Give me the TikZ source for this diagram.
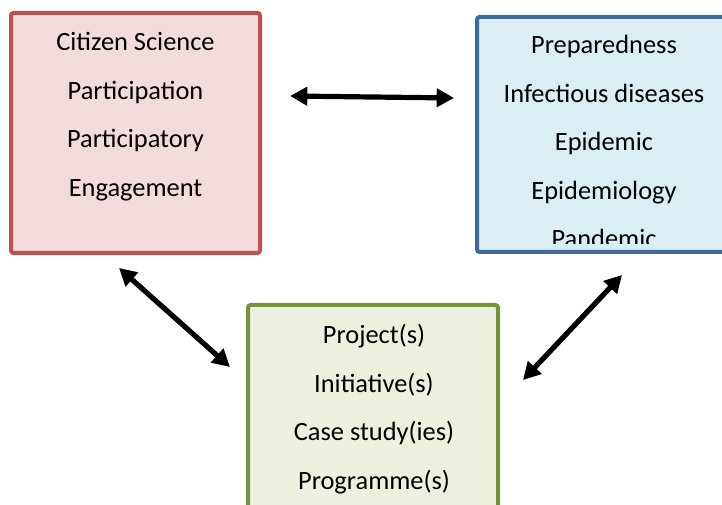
\documentclass[tikz,border=0pt]{standalone}
\usepackage{fontspec}
\setmainfont{Carlito}
\usetikzlibrary{arrows.meta}
\definecolor{redline}{HTML}{C0504D}
\definecolor{redfill}{HTML}{F2DCDB}
\definecolor{blueline}{HTML}{3F6A9B}
\definecolor{bluefill}{HTML}{DAEEF3}
\definecolor{greenline}{HTML}{77933C}
\definecolor{greenfill}{HTML}{EBF1DE}
\tikzset{
  boxbase/.style={draw, line width=3pt, rounded corners=2pt, inner sep=0pt},
  redbox/.style={boxbase, draw=redline, fill=redfill},
  bluebox/.style={boxbase, draw=blueline, fill=bluefill},
  greenbox/.style={boxbase, draw=greenline, fill=greenfill},
  term/.style={anchor=base, inner sep=0pt, font=\fontsize{19.8}{24}\selectfont},
  dblarrow/.style={{Triangle[length=13pt,width=13.5pt]}-{Triangle[length=13pt,width=13.5pt]}, line width=3.9pt}
}
\begin{document}
\begin{tikzpicture}[x=0.75pt,y=-0.75pt]
\useasboundingbox (0,0) rectangle (722,505);
\clip (0,0) rectangle (722,505);
\fill[white] (0,0) rectangle (722,505);
% boxes
\node[redbox, minimum width=249*0.75pt, minimum height=240*0.75pt] (red) at (135.5,133) {};
\node[bluebox, minimum width=254*0.75pt, minimum height=235*0.75pt] (blue) at (604,134.5) {};
\node[greenbox, minimum width=250*0.75pt, minimum height=260*0.75pt] (green) at (373,435) {};
% red texts
\node[term] (r1) at (135.5,51) {Citizen Science};
\node[term] (r2) at (135.5,99.5) {Participation};
\node[term] (r3) at (135.5,148) {Participatory};
\node[term] (r4) at (135.5,196.5) {Engagement};
% blue texts
\begin{scope}
\clip (478,19) rectangle (731,244);
\node[term] (b1) at (604,54) {Preparedness};
\node[term] (b2) at (604,102.5) {Infectious diseases};
\node[term] (b3) at (604,151) {Epidemic};
\node[term] (b4) at (604,199.5) {Epidemiology};
\node[term] (b5) at (604,248) {Pandemic};
\end{scope}
% green texts
\node[term] (g1) at (374,344) {Project(s)};
\node[term] (g2) at (374,392.5) {Initiative(s)};
\node[term] (g3) at (374,441) {Case study(ies)};
\node[term] (g4) at (374,489.5) {Programme(s)};
% arrows
\coordinate (h1) at (290,96);
\coordinate (h2) at (454,98);
\coordinate (l1) at (119,268);
\coordinate (l2) at (230,367);
\coordinate (q1) at (622,275);
\coordinate (q2) at (523,380);
\draw[dblarrow] (h1) -- (h2);
\draw[dblarrow] (l1) -- (l2);
\draw[dblarrow] (q1) -- (q2);
\end{tikzpicture}
\end{document}
